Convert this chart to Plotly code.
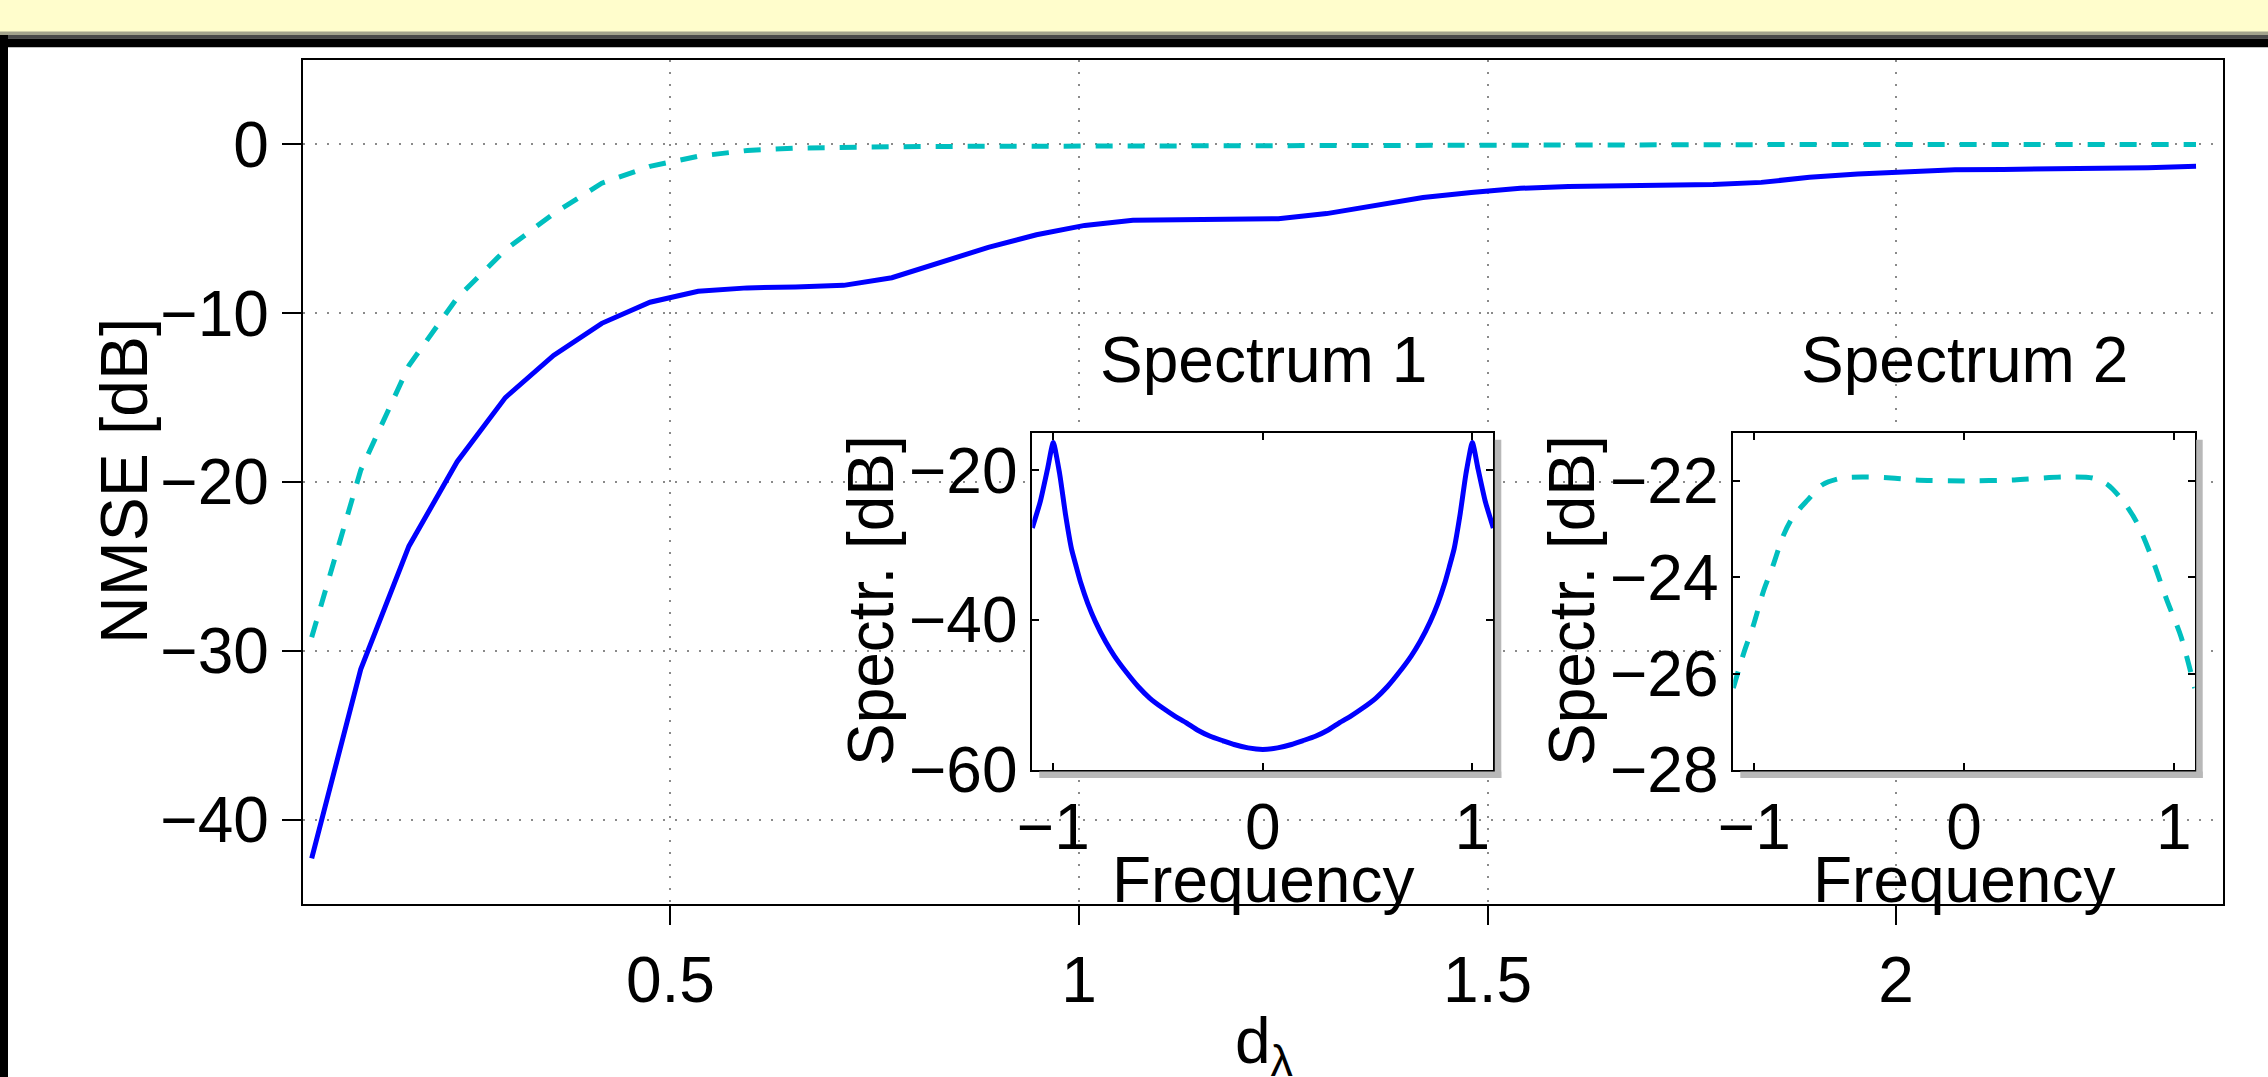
import plotly.graph_objects as go

W, H = 2268, 1077

# ---------------- data ----------------
d_lambda = [0.061, 0.121, 0.180, 0.239, 0.298, 0.357, 0.416, 0.475, 0.534, 0.594,
            0.653, 0.712, 0.771, 0.830, 0.889, 0.948, 1.007, 1.066, 1.126, 1.185,
            1.244, 1.303, 1.362, 1.421, 1.480, 1.540, 1.599, 1.658, 1.717, 1.776,
            1.835, 1.894, 1.953, 2.012, 2.072, 2.131, 2.190, 2.249, 2.308, 2.367]

nmse_spec1 = [-42.3, -31.1, -23.8, -18.8, -15.0, -12.5, -10.6, -9.35, -8.7, -8.5,
              -8.45, -8.35, -7.9, -7.0, -6.1, -5.35, -4.8, -4.5, -4.45, -4.45,
              -4.4, -4.1, -3.6, -3.15, -2.85, -2.6, -2.5, -2.47, -2.45, -2.38,
              -2.25, -1.95, -1.75, -1.6, -1.5, -1.48, -1.47, -1.45, -1.38, -1.3]

nmse_spec2 = [-29.2, -19.3, -13.1, -9.1, -6.25, -4.1, -2.3, -1.3, -0.7, -0.36,
              -0.22, -0.16, -0.14, -0.12, -0.11, -0.10, -0.09, -0.08, -0.07, -0.06,
              -0.05, -0.04, -0.03, -0.03, -0.02, -0.02, -0.02, -0.01, -0.01, -0.01,
              -0.01, -0.01, 0.0, 0.0, 0.0, 0.0, 0.0, 0.0, 0.0, 0.0]

freq1 = [-1.1, -1.062, -1.027, -1.0, -0.970, -0.941, -0.913, -0.89, -0.868, -0.835,
         -0.799, -0.75, -0.708, -0.65, -0.594, -0.54, -0.479, -0.42, -0.365, -0.31,
         -0.251, -0.19, -0.137, -0.07, 0.0,
         0.07, 0.137, 0.19, 0.251, 0.31, 0.365, 0.42, 0.479, 0.54, 0.594,
         0.65, 0.708, 0.75, 0.799, 0.835, 0.868, 0.89, 0.913, 0.941, 0.970,
         1.0, 1.027, 1.062, 1.1]
spec1_db = [-27.7, -24.2, -19.8, -16.3, -20.4, -26.0, -30.5, -32.9, -35.1, -37.8,
            -40.2, -42.9, -44.8, -47.0, -48.9, -50.4, -51.7, -52.8, -53.7, -54.7,
            -55.5, -56.1, -56.6, -57.05, -57.25,
            -57.05, -56.6, -56.1, -55.5, -54.7, -53.7, -52.8, -51.7, -50.4, -48.9,
            -47.0, -44.8, -42.9, -40.2, -37.8, -35.1, -32.9, -30.5, -26.0, -20.4,
            -16.3, -19.8, -24.2, -27.7]

freq2 = [-1.1, -1.050, -1.003, -0.957, -0.910, -0.863, -0.816, -0.746, -0.675, -0.581,
         -0.464, -0.347, -0.230, 0.0, 0.239, 0.474, 0.614, 0.685, 0.755, 0.825,
         0.896, 0.966, 1.036, 1.1]
spec2_db = [-26.3, -25.57, -24.98, -24.3, -23.75, -23.15, -22.75, -22.4, -22.08, -21.94,
            -21.92, -21.94, -21.98, -22.0, -21.98, -21.92, -21.94, -22.08, -22.4, -22.87,
            -23.6, -24.46, -25.25, -26.3]

main_xticks = [0.5, 1, 1.5, 2]
main_xticklabels = ["0.5", "1", "1.5", "2"]
main_yticks = [0, -10, -20, -30, -40]
inset_xticks = [-1, 0, 1]
inset1_yticks = [-20, -40, -60]
inset2_yticks = [-22, -24, -26, -28]

# ---------------- helpers ----------------
def fx(x):
    return x / W

def fy(y):
    return 1 - y / H

FONT = "Liberation Sans, Arial, Helvetica, sans-serif"
FS = 64
BLUE = "#0000FF"
CYAN = "#00BFBF"

fig = go.Figure()

fig.add_trace(go.Scatter(x=d_lambda, y=nmse_spec2, mode="lines",
                         line=dict(color=CYAN, width=5, dash="17px,15px"),
                         xaxis="x", yaxis="y", showlegend=False))
fig.add_trace(go.Scatter(x=d_lambda, y=nmse_spec1, mode="lines",
                         line=dict(color=BLUE, width=5),
                         xaxis="x", yaxis="y", showlegend=False))
fig.add_trace(go.Scatter(x=freq1, y=spec1_db, mode="lines",
                         line=dict(color=BLUE, width=5, shape="spline", smoothing=0.5),
                         xaxis="x2", yaxis="y2", showlegend=False))
fig.add_trace(go.Scatter(x=freq2, y=spec2_db, mode="lines",
                         line=dict(color=CYAN, width=5, dash="17px,15px", shape="spline", smoothing=0.8),
                         xaxis="x3", yaxis="y3", showlegend=False))

grid = dict(showgrid=True, gridcolor="#8a8a8a", gridwidth=2, griddash="2px,10px")
axbase = dict(showline=True, linecolor="black", linewidth=2, zeroline=False,
              tickfont=dict(size=FS, color="black", family=FONT), tickcolor="black",
              tickwidth=2, automargin=False)

main_xd = [fx(302.7), fx(2223)]
main_yd = [fy(904), fy(60)]
in1_xd = [fx(1032.3), fx(1493.3)]
in2_xd = [fx(1733.3), fx(2194.7)]
in_yd = [fy(770), fy(432.7)]

fig.update_layout(
    width=W, height=H, autosize=False,
    margin=dict(l=0, r=0, t=0, b=0),
    paper_bgcolor="#FFFFFF", plot_bgcolor="white",
    font=dict(family=FONT, size=FS, color="black"),
    xaxis=dict(domain=main_xd, range=[0.05, 2.4], tickvals=main_xticks, ticktext=main_xticklabels,
               ticks="outside", ticklen=19, mirror=True, anchor="y", **grid, **axbase),
    yaxis=dict(domain=main_yd, range=[-45, 5], tickvals=main_yticks,
               ticks="outside", ticklen=19, mirror=True, anchor="x", **grid, **axbase),
    xaxis2=dict(domain=in1_xd, range=[-1.1, 1.1], tickvals=inset_xticks, ticks="inside", ticklen=7,
                mirror="ticks", anchor="y2", showgrid=False, **axbase),
    yaxis2=dict(domain=in_yd, range=[-60, -15], tickvals=inset1_yticks, ticks="inside", ticklen=7,
                mirror="ticks", anchor="x2", showgrid=False, **axbase),
    xaxis3=dict(domain=in2_xd, range=[-1.1, 1.1], tickvals=inset_xticks, ticks="inside", ticklen=7,
                mirror="ticks", anchor="y3", showgrid=False, **axbase),
    yaxis3=dict(domain=in_yd, range=[-28, -21], tickvals=inset2_yticks, ticks="inside", ticklen=7,
                mirror="ticks", anchor="x3", showgrid=False, **axbase),
)

shapes = []
# slide frame: yellow band, dark bands, left black bar
shapes.append(dict(type="rect", xref="paper", yref="paper", x0=0, x1=1, y0=fy(32), y1=1,
                   fillcolor="#FFFDCC", line=dict(width=0), layer="below"))
shapes.append(dict(type="rect", xref="paper", yref="paper", x0=0, x1=1, y0=fy(35), y1=fy(31.5),
                   fillcolor="#A3A38C", line=dict(width=0), layer="below"))
shapes.append(dict(type="rect", xref="paper", yref="paper", x0=0, x1=1, y0=fy(38.5), y1=fy(35),
                   fillcolor="#4A4A4A", line=dict(width=0), layer="below"))
shapes.append(dict(type="rect", xref="paper", yref="paper", x0=0, x1=1, y0=fy(47.3), y1=fy(38.5),
                   fillcolor="#000000", line=dict(width=0), layer="below"))
shapes.append(dict(type="rect", xref="paper", yref="paper", x0=0, x1=fx(8), y0=0, y1=fy(35),
                   fillcolor="#000000", line=dict(width=0), layer="below"))
# inset drop shadows
for x0, x1 in [(1032.3, 1493.3), (1733.3, 2194.7)]:
    y0, y1 = 432.7, 770
    shapes.append(dict(type="rect", xref="paper", yref="paper", x0=fx(x1 + 1.5), x1=fx(x1 + 8),
                       y0=fy(y1 + 8), y1=fy(y0 + 7), fillcolor="#B8B8B8", line=dict(width=0),
                       layer="above"))
    shapes.append(dict(type="rect", xref="paper", yref="paper", x0=fx(x0 + 7), x1=fx(x1 + 8),
                       y0=fy(y1 + 8), y1=fy(y1 + 1.5), fillcolor="#B8B8B8", line=dict(width=0),
                       layer="above"))
fig.update_layout(shapes=shapes)

ann = []
def label(text, x, y, angle=0, xanchor="center", yanchor="middle", size=FS):
    ann.append(dict(text=text, x=fx(x), y=fy(y), xref="paper", yref="paper", showarrow=False,
                    textangle=angle, xanchor=xanchor, yanchor=yanchor,
                    font=dict(size=size, family=FONT, color="black")))

label("NMSE [dB]", 124, 481, angle=-90, size=66)
label("d<sub>λ</sub>", 1264, 1003, yanchor="top")
label("Spectrum 1", 1263, 360)
label("Spectrum 2", 1964, 360)
label("Spectr. [dB]", 871, 601, angle=-90)
label("Spectr. [dB]", 1572, 601, angle=-90)
label("Frequency", 1263, 880)
label("Frequency", 1964, 880)
fig.update_layout(annotations=ann)

fig.write_html("out.html", config={"displayModeBar": False},
               post_script="document.body.style.margin='0';document.body.style.padding='0';"
                           "document.documentElement.style.overflow='hidden';")
